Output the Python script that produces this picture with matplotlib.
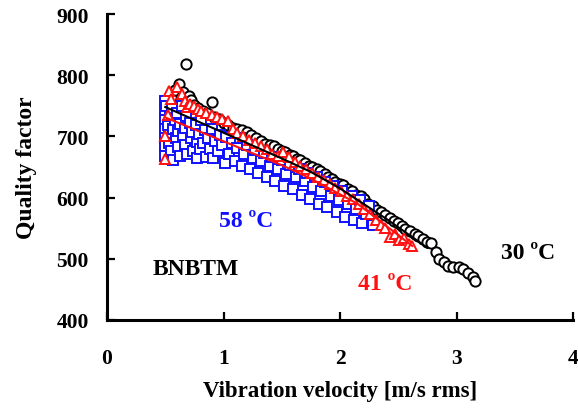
import matplotlib
matplotlib.use("Agg")
import matplotlib.pyplot as plt

# 30 ºC (black circles)
black_x = [0.50, 0.50, 0.50, 0.53, 0.55, 0.58, 0.62, 0.65, 0.68, 0.70, 0.72, 0.75, 0.78, 0.82,
           0.86, 0.90, 0.92, 0.96, 1.00, 1.04, 1.08, 1.12, 1.16, 1.20, 1.24, 1.28, 1.32, 1.36,
           1.40, 1.43, 1.47, 1.50, 1.53, 1.57, 1.60, 1.63, 1.66, 1.70, 1.73, 1.76, 1.80, 1.83,
           1.87, 1.90, 1.93, 1.96, 2.00, 2.03, 2.07, 2.10, 2.14, 2.18, 2.21, 2.24, 2.28, 2.32,
           2.35, 2.39, 2.43, 2.46, 2.50, 2.53, 2.56, 2.60, 2.64, 2.67, 2.71, 2.75, 2.78, 2.82,
           2.85, 2.89, 2.93, 2.97, 3.02, 3.06, 3.10, 3.14, 3.16]
black_y = [755, 730, 718, 745, 765, 776, 786, 772, 818, 766, 760, 752, 746, 742,
           738, 756, 732, 728, 722, 718, 714, 712, 710, 707, 702, 697, 692, 688,
           686, 684, 680, 676, 675, 670, 668, 663, 662, 657, 652, 650, 646, 644,
           638, 634, 630, 626, 622, 621, 614, 610, 605, 602, 598, 590, 586, 580,
           577, 572, 566, 562, 558, 553, 549, 545, 540, 537, 533, 528, 526, 511,
           500, 495, 489, 487, 487, 484, 476, 471, 464]

# 41 ºC (red triangles)
red_x = [0.50, 0.50, 0.52, 0.53, 0.55, 0.60, 0.64, 0.67, 0.69, 0.71, 0.75, 0.78, 0.81,
         0.85, 0.90, 0.94, 0.99, 1.04, 1.08, 1.12, 1.17, 1.22, 1.27, 1.32, 1.37, 1.42,
         1.47, 1.51, 1.56, 1.61, 1.66, 1.71, 1.76, 1.81, 1.86, 1.91, 1.96, 2.01, 2.06,
         2.11, 2.16, 2.21, 2.26, 2.31, 2.35, 2.39, 2.43, 2.47, 2.51, 2.55, 2.59, 2.62]
red_y = [663, 701, 735, 774, 761, 781, 769, 758, 748, 753, 750, 745, 742,
         738, 735, 732, 729, 725, 712, 706, 700, 694, 689, 684, 679, 671,
         668, 675, 667, 658, 652, 646, 640, 633, 628, 622, 616, 610, 603,
         597, 590, 581, 574, 563, 555, 550, 536, 540, 530, 534, 525, 521]

# 58 ºC (blue squares)
blue_x = [0.50, 0.50, 0.50, 0.50, 0.50, 0.50, 0.50, 0.51, 0.52, 0.53, 0.53, 0.54, 0.55,
          0.56, 0.57, 0.57, 0.58, 0.59, 0.60, 0.61, 0.61, 0.63, 0.63, 0.64, 0.65, 0.67,
          0.67, 0.68, 0.69, 0.71, 0.72, 0.73, 0.74, 0.76, 0.77, 0.77, 0.79, 0.80, 0.81,
          0.82, 0.84, 0.85, 0.87, 0.88, 0.90, 0.91, 0.93, 0.95, 0.97, 0.99, 1.01, 1.02,
          1.05, 1.07, 1.10, 1.12, 1.14, 1.16, 1.18, 1.20, 1.23, 1.25, 1.27, 1.30, 1.32,
          1.35, 1.37, 1.40, 1.42, 1.44, 1.47, 1.50, 1.52, 1.54, 1.57, 1.60, 1.62, 1.65,
          1.67, 1.70, 1.72, 1.74, 1.77, 1.80, 1.82, 1.84, 1.87, 1.89, 1.92, 1.94, 1.97,
          1.99, 2.02, 2.04, 2.07, 2.10, 2.12, 2.14, 2.17, 2.19, 2.22, 2.25, 2.28]
blue_y = [758, 741, 726, 712, 697, 684, 668, 750, 719, 703, 689, 734, 676,
          746, 712, 662, 727, 697, 738, 683, 709, 721, 668, 749, 700, 714,
          686, 734, 671, 722, 697, 708, 676, 718, 664, 691, 704, 679, 727,
          689, 711, 667, 698, 680, 712, 664, 693, 676, 703, 686, 657, 699,
          671, 689, 660, 681, 697, 652, 671, 686, 647, 664, 678, 641, 660,
          673, 634, 652, 667, 627, 646, 661, 619, 638, 653, 614, 633, 646,
          604, 627, 640, 597, 618, 633, 589, 611, 626, 584, 603, 619, 577,
          596, 611, 569, 589, 603, 564, 581, 596, 559, 574, 586, 555]

# fitted curves
black_line_x = [0.50, 1.00, 1.50, 1.75, 2.00, 2.40, 2.75]
black_line_y = [748, 706, 664, 642, 615, 565, 518]
red_line_x = [0.50, 1.00, 1.50, 1.75, 2.15, 2.62]
red_line_y = [731, 692, 653, 631, 590, 521]

x_ticks = [0, 1, 2, 3, 4]
y_ticks = [400, 500, 600, 700, 800, 900]

serif = "Liberation Serif"
plt.rcParams["font.family"] = [serif, "DejaVu Serif"]
plt.rcParams["font.weight"] = "bold"

fig = plt.figure(figsize=(5.78, 4.10), dpi=100)
ax = fig.add_axes([107 / 578, 1 - 321 / 410, (573 - 107) / 578, (321 - 15) / 410])

ax.plot(black_x, black_y, linestyle="none", marker="o", markersize=7.4,
        markerfacecolor="white", markeredgecolor="black", markeredgewidth=1.4, zorder=2)
ax.plot(blue_x, blue_y, linestyle="none", marker="s", markersize=7.3,
        markerfacecolor="white", markeredgecolor="#1010ff", markeredgewidth=1.4, zorder=3)
ax.plot(red_x, red_y, linestyle="none", marker="^", markersize=7.6,
        markerfacecolor="white", markeredgecolor="#ff1010", markeredgewidth=1.4, zorder=4)
ax.plot(black_line_x, black_line_y, color="black", linewidth=1.5, zorder=5)
ax.plot(red_line_x, red_line_y, color="#ff1010", linewidth=1.5, zorder=6)

ax.set_xlim(0, 4)
ax.set_ylim(400, 900)
ax.set_xticks(x_ticks)
ax.set_yticks(y_ticks)
ax.set_xticklabels([str(v) for v in x_ticks])
ax.set_yticklabels([str(v) for v in y_ticks])

for side in ["top", "right"]:
    ax.spines[side].set_visible(False)
for side in ["left", "bottom"]:
    ax.spines[side].set_linewidth(2.2)

ax.tick_params(axis="both", direction="in", length=6, width=1.6, labelsize=15.5)
ax.tick_params(axis="x", pad=20)
ax.tick_params(axis="y", pad=13)
for lbl in ax.get_xticklabels() + ax.get_yticklabels():
    lbl.set_fontweight("bold")

ax.set_xlabel("Vibration velocity [m/s rms]", fontsize=16.5, fontweight="bold", labelpad=9)
ax.set_ylabel("Quality factor", fontsize=17, fontweight="bold", labelpad=14)

ax.text(1.195, 562, "58 ºC", color="#1010ff", fontsize=17, fontweight="bold",
        ha="center", va="center")
ax.text(0.765, 484, "BNBTM", color="black", fontsize=17, fontweight="bold",
        ha="center", va="center")
ax.text(2.39, 459, "41 ºC", color="#ff1010", fontsize=17, fontweight="bold",
        ha="center", va="center")
ax.text(3.61, 511, "30 ºC", color="black", fontsize=17, fontweight="bold",
        ha="center", va="center")

fig.savefig("out.png", dpi=100)
